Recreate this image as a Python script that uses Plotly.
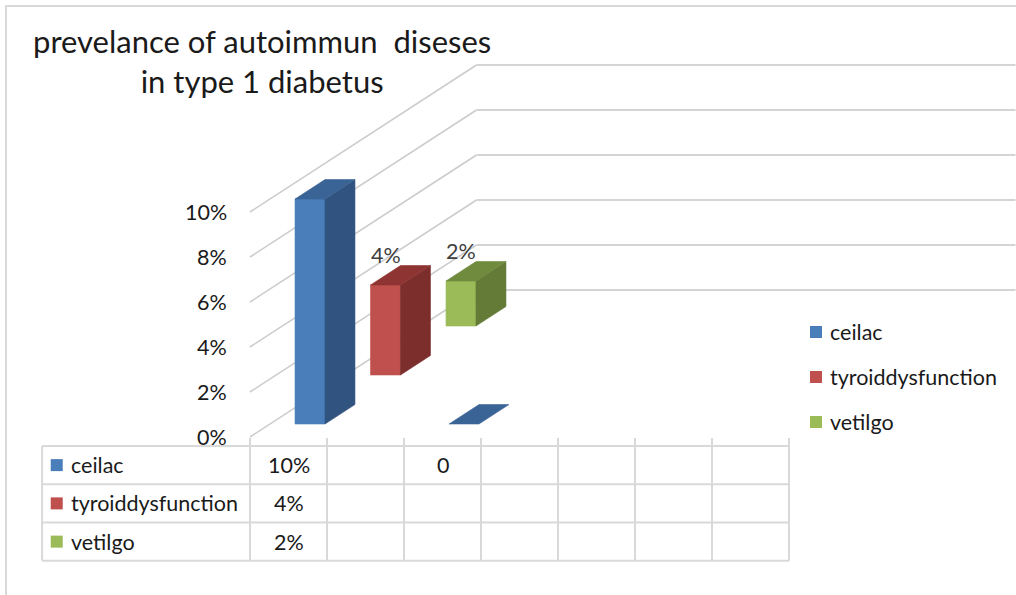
import plotly.graph_objects as go

# ---- data -------------------------------------------------------------
n_categories = 7
series_names = ["ceilac", "tyroiddysfunction", "vetilgo"]
ceilac = [0.10, None, 0, None, None, None, None]
tyroiddysfunction = [0.04, None, None, None, None, None, None]
vetilgo = [0.02, None, None, None, None, None, None]
series_values = [ceilac, tyroiddysfunction, vetilgo]
series_show_label = [False, True, True]
value_ticks = [0, 0.02, 0.04, 0.06, 0.08, 0.10]
title_lines = ["prevelance of autoimmun\u00a0 diseses", "in type 1 diabetus"]

# ---- styling ----------------------------------------------------------
FONT = "Lato, Carlito, Calibri, sans-serif"
TEXT_SIZE = 21.5
face_colors = [  # front, side, top
    ("#4a7ebb", "#31537f", "#3b6496"),
    ("#c0504d", "#7c2e2c", "#8e3432"),
    ("#9bbb59", "#647a37", "#708b3e"),
]
GRID = "#d4d4d4"
TABLE_LINE = "#d9d9d9"

# oblique projection: x in category units, y in percent units
DEPTH_DX = 0.9805   # horizontal shift per series slot (categories)
DEPTH_DY = 2.178    # vertical shift per series slot (percent)
BAR_X = (0.325, 0.714)   # bar extent inside a category
BAR_D = (0.265, 0.662)   # bar extent inside a series slot
n_series = len(series_names)


def proj(c, d, pct):
    return c + d * DEPTH_DX, pct + d * DEPTH_DY


fig = go.Figure()


def poly(points, color, width=0.6, line_color=None):
    xs = [p[0] for p in points] + [points[0][0]]
    ys = [p[1] for p in points] + [points[0][1]]
    fig.add_trace(go.Scatter(x=xs, y=ys, mode="lines", fill="toself",
                             fillcolor=color,
                             line=dict(color=line_color or color, width=width),
                             hoverinfo="skip", showlegend=False))


def line(points, color, width, dash="solid"):
    fig.add_trace(go.Scatter(x=[p[0] for p in points], y=[p[1] for p in points],
                             mode="lines", line=dict(color=color, width=width, dash=dash),
                             hoverinfo="skip", showlegend=False))


# wall gridlines (side wall diagonal + back wall horizontal)
for t in value_ticks:
    pct = t * 100
    line([proj(0, 0, pct), proj(0, n_series, pct)], "#cccccc", 1.6)
    line([proj(0, n_series, pct), proj(n_categories, n_series, pct)], GRID, 2)

# bars, drawn from the deepest series to the front
annotations = []
for s in reversed(range(n_series)):
    front, side, top = face_colors[s]
    for i, v in enumerate(series_values[s]):
        if v is None:
            continue
        h = v * 100
        x0, x1 = i + BAR_X[0], i + BAR_X[1]
        d0, d1 = s + BAR_D[0], s + BAR_D[1]
        if h > 0:
            poly([proj(x0, d0, 0), proj(x1, d0, 0), proj(x1, d0, h), proj(x0, d0, h)], front)
            poly([proj(x1, d0, 0), proj(x1, d1, 0), proj(x1, d1, h), proj(x1, d0, h)], side)
        poly([proj(x0, d0, h), proj(x1, d0, h), proj(x1, d1, h), proj(x0, d1, h)], top)
        if series_show_label[s] and h > 0:
            lx, ly = proj((x0 + x1) / 2, d0, h)
            annotations.append(dict(x=lx, y=ly, xref="x", yref="y", text=f"{v:.0%}",
                                    showarrow=False, yanchor="bottom", yshift=15,
                                    font=dict(family=FONT, size=TEXT_SIZE, color="#404040")))

# value axis labels
for t in value_ticks:
    annotations.append(dict(x=-0.27, y=t * 100, xref="x", yref="y", text=f"{t:.0%}",
                            showarrow=False, xanchor="right", yanchor="middle",
                            font=dict(family=FONT, size=TEXT_SIZE, color="#1a1a1a")))

# data table under the plot
TABLE_TOP = -0.4
ROW_H = 1.70
TABLE_LEFT = -2.70
table_bottom = TABLE_TOP - ROW_H * n_series
for r in range(n_series + 1):
    yy = TABLE_TOP - r * ROW_H
    line([(TABLE_LEFT, yy), (n_categories, yy)], TABLE_LINE, 2)
line([(TABLE_LEFT, TABLE_TOP), (TABLE_LEFT, table_bottom)], TABLE_LINE, 2)
for c in range(n_categories + 1):
    line([(c, -0.04), (c, table_bottom)], TABLE_LINE, 2)

for s, name in enumerate(series_names):
    yy = TABLE_TOP - (s + 0.5) * ROW_H
    fig.add_trace(go.Scatter(x=[TABLE_LEFT + 0.19], y=[yy], mode="markers",
                             marker=dict(symbol="square", size=12, color=face_colors[s][0]),
                             hoverinfo="skip", showlegend=False))
    annotations.append(dict(x=TABLE_LEFT + 0.35, y=yy, xref="x", yref="y", text=name,
                            showarrow=False, xanchor="left", yanchor="middle",
                            font=dict(family=FONT, size=TEXT_SIZE, color="#1a1a1a")))
    for i, v in enumerate(series_values[s]):
        if v is None:
            continue
        txt = "0" if v == 0 else f"{v:.0%}"
        annotations.append(dict(x=i + 0.5, y=yy, xref="x", yref="y", text=txt,
                                showarrow=False, xanchor="center", yanchor="middle",
                                font=dict(family=FONT, size=TEXT_SIZE, color="#1a1a1a")))

# legend on the right
for s, name in enumerate(series_names):
    ly = 1 - (332 + 45 * s) / 595
    annotations.append(dict(x=828 / 1016, y=ly, xref="paper", yref="paper", text=name,
                            showarrow=False, xanchor="left", yanchor="middle",
                            font=dict(family=FONT, size=TEXT_SIZE, color="#1a1a1a")))
shapes = []
for s in range(n_series):
    cy = 332 + 45 * s
    shapes.append(dict(type="rect", xref="paper", yref="paper",
                       x0=810 / 1016, x1=822 / 1016, y0=1 - (cy + 6) / 595, y1=1 - (cy - 6) / 595,
                       fillcolor=face_colors[s][0], line=dict(width=0)))

# chart frame
shapes.append(dict(type="rect", xref="paper", yref="paper", x0=6 / 1016, x1=1.02,
                   y0=-0.02, y1=1 - 6 / 595, line=dict(color="#d9d9d9", width=2),
                   fillcolor="rgba(0,0,0,0)"))

# title
annotations.append(dict(x=262 / 1016, y=1 - 61 / 595, xref="paper", yref="paper",
                        text="<br>".join(title_lines), showarrow=False, align="center",
                        xanchor="center", yanchor="middle",
                        font=dict(family=FONT, size=31, color="#1a1a1a")))

fig.update_layout(
    width=1016, height=595,
    margin=dict(l=0, r=0, t=0, b=0),
    paper_bgcolor="white", plot_bgcolor="white",
    xaxis=dict(range=[-250 / 77, 766 / 77], visible=False, fixedrange=True),
    yaxis=dict(range=[-158 / 22.5, 437 / 22.5], visible=False, fixedrange=True),
    annotations=annotations, shapes=shapes, showlegend=False,
)

fig.write_html("out.html")
